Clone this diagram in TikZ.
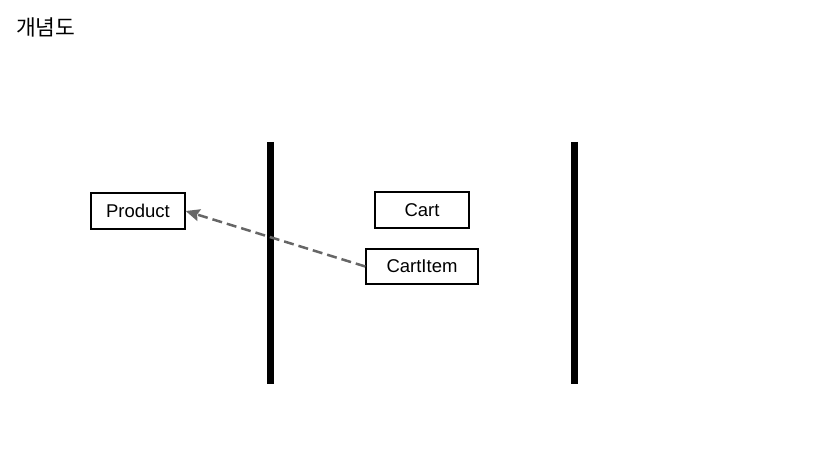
\documentclass[tikz,border=0pt]{standalone}
\usepackage{fontspec}
\setmainfont{Liberation Sans}
\newfontfamily\krfont{Noto Sans CJK KR}
\usetikzlibrary{arrows.meta}
\tikzset{
  entity/.style={draw, line width=1.3pt, minimum height=36pt, inner sep=0pt, font=\fontsize{18.5}{20}\selectfont},
  wall/.style={line width=7pt},
  dep/.style={draw=black!60, dashed, dash pattern=on 10pt off 5pt, line width=2.5pt, -{Stealth[length=14pt,width=12pt,inset=2pt]}}
}
\begin{document}
\begin{tikzpicture}[x=1pt,y=-1pt]
\useasboundingbox (0,0) rectangle (833,470);
\fill[white] (0,0) rectangle (833,470);
\node[anchor=west, inner sep=0pt, font=\krfont\fontsize{21.5}{24}\selectfont] (title) at (16,27) {개념도};
% layer walls
\draw[wall] (270,142) -- (270,384);
\draw[wall] (574,142) -- (574,384);
% entities
\node[entity, minimum width=94pt] (product) at (138,211) {Product};
\node[entity, minimum width=94pt] (cart) at (422,210) {Cart};
\node[entity, minimum width=112pt, minimum height=35pt] (cartitem) at (422,266.5) {CartItem};
\draw[dep] (cartitem.west) -- (product.east);
\end{tikzpicture}
\end{document}
